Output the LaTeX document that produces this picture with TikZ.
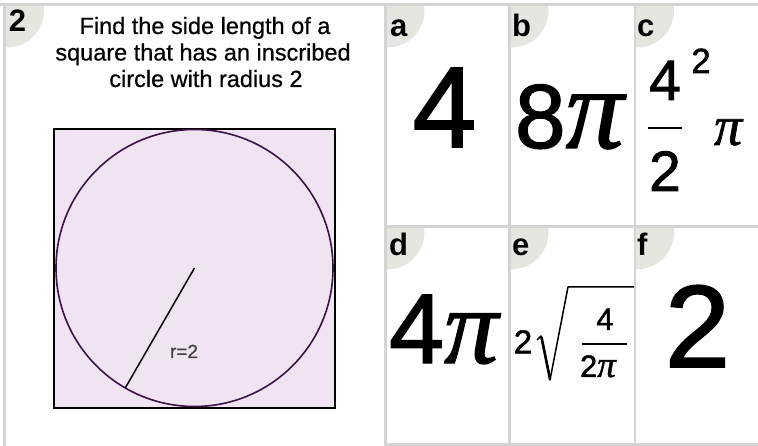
\documentclass[tikz,border=0pt]{standalone}
\usepackage{fontspec}
\setmainfont{Liberation Sans}
\newfontfamily\heavysans[FakeBold=1.5]{Liberation Sans}
\newfontfamily\textsans[FakeBold=0.6]{Liberation Sans}
\newfontfamily\pifont[FakeBold=1.2]{Liberation Serif}
\usetikzlibrary{positioning}
\definecolor{cellgray}{HTML}{D4D4D4}
\definecolor{badgegray}{HTML}{E6E6E0}
\definecolor{squarefill}{HTML}{F1E4F2}
\definecolor{circlecol}{HTML}{3A1446}
\definecolor{labelgray}{HTML}{404040}
\newcommand{\sizept}[1]{\fontsize{#1}{#1}\selectfont}
\newcommand{\pisym}{{\pifont\itshape π}}

\begin{document}
\begin{tikzpicture}[x=1pt, y=-1pt, inner sep=0pt, outer sep=0pt,
  badge/.style={fill=badgegray},
  letter/.style={anchor=base west, font=\sizept{31}\bfseries},
  answer/.style={anchor=base},
  question/.style={anchor=base, font=\textsans\sizept{23.5}}]
  \useasboundingbox (0,0) rectangle (758,446);

  % round badges in the corner of each box
  \foreach \cx/\cy in {6/6.5, 386.5/6.5, 510.5/6.5, 636/6.5,
                       386.5/228.3, 510.5/228.3, 636/228.3} {
    \begin{scope}
      \clip (\cx,\cy) rectangle ++(60,60);
      \fill[badge] (\cx+1,\cy+4) circle (37pt);
    \end{scope}
  }

  % grid lines
  \fill[cellgray] (0,3.5) rectangle (758,6.5);
  \fill[cellgray] (3,3.5) rectangle (6,446);
  \foreach \lx in {384, 508, 633.5}
    \fill[cellgray] (\lx,5) rectangle ++(2.5,441);
  \fill[cellgray] (384,225) rectangle (758,228.3);
  \fill[cellgray] (384,443.3) rectangle (758,445.7);

  % question
  \node (qnum) [letter] at (9,32) {2};
  \node (title1) [question] at (205,34) {Find the side length of a};
  \node (title2) [question] at (203,60.5) {square that has an inscribed};
  \node (title3) [question] at (206,87) {circle with radius 2};

  \node (sq) [draw, line width=2pt, fill=squarefill,
    minimum width=281, minimum height=278] at (194,268.5) {};
  \node (circ) [circle, draw=circlecol, line width=1.6pt,
    minimum size=277] at (194.5,268) {};
  \draw[line width=1.5pt] (circ.center) -- (circ.240);
  \node (rlab) [anchor=base west, font=\textsans\sizept{19}, text=labelgray]
    at (170,358) {r=2};

  % answers
  \node (la) [letter] at (390,37) {a};
  \node (lb) [letter] at (512,37) {b};
  \node (lc) [letter] at (637,37) {c};
  \node (ld) [letter] at (389,256) {d};
  \node (le) [letter] at (512,256) {e};
  \node (lf) [letter] at (637,256) {f};

  \node (ansa) [answer, font=\heavysans\sizept{115}] at (444.5,147) {4};

  \node (b8) [anchor=base west, font=\heavysans\sizept{91}] at (515,148) {8};
  \node (bpi) [base right=0pt of b8, font=\sizept{116}] {\pisym};

  \node (c4) [answer, font=\heavysans\sizept{57}] at (665,100) {4};
  \node (c2) [answer, font=\heavysans\sizept{57}] at (665,191) {2};
  \draw[line width=2pt] (648,128) -- (682,128);
  \node (csq) [answer, font=\heavysans\sizept{35}] at (701,73) {2};
  \node (cpi) [anchor=base west, font=\sizept{56}] at (714,145) {\pisym};

  \node (d4) [anchor=base west, font=\heavysans\sizept{99}] at (389,363) {4};
  \node (dpi) [base right=0pt of d4, font=\sizept{108}] {\pisym};

  \node (e2) [answer, font=\heavysans\sizept{33}] at (523,353.3) {2};
  \draw[line width=1.5pt, line join=round]
    (537,340) -- (541,336) -- (550,380) -- (568,287) -- (634,287);
  \draw[line width=2.6pt] (541.5,337) -- (550,379);
  \node (e4) [answer, font=\heavysans\sizept{31}] at (605,330) {4};
  \draw[line width=1.5pt] (582,344) -- (627,344);
  \node (e2b) [anchor=base west, font=\heavysans\sizept{31}] at (580,377) {2};
  \node (epi) [base right=0pt of e2b, font=\sizept{37}] {\pisym};

  \node (ansf) [answer, font=\heavysans\sizept{117}] at (697.5,367) {2};
\end{tikzpicture}
\end{document}
